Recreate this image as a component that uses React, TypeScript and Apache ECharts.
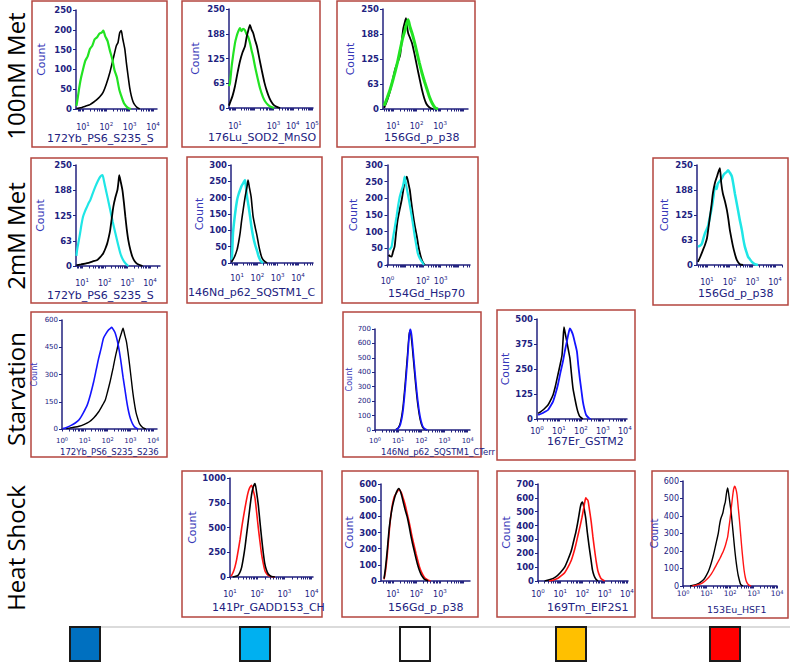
import React, { useEffect, useRef } from "react";
import * as echarts from "echarts";

// ---------- DATA (x = log10 intensity, y = count) ----------
const rowLabels = ["100nM Met", "2mM Met", "Starvation", "Heat Shock"];
const legendColors = ["#0070c0", "#00b0f0", "#ffffff", "#ffc000", "#ff0000"];

const a1Green = [[0.72,8],[0.78,30],[0.85,58],[0.92,80],[1.0,100],[1.1,122],[1.2,133],[1.3,152],[1.4,160],[1.5,176],[1.6,181],[1.7,190],[1.8,193],[1.87,198],[1.95,184],[2.05,172],[2.15,148],[2.25,127],[2.35,98],[2.45,80],[2.55,50],[2.65,31],[2.75,15],[2.85,7],[2.95,2],[3.05,0]];
const a1Black = [[0.72,1],[0.9,3],[1.0,5],[1.15,8],[1.3,11],[1.45,17],[1.58,23],[1.72,31],[1.86,42],[2.0,63],[2.15,92],[2.29,126],[2.43,160],[2.5,168],[2.57,192],[2.64,198],[2.7,178],[2.79,152],[2.86,116],[2.93,84],[3.0,54],[3.07,33],[3.14,19],[3.21,11],[3.3,5],[3.43,0]];
const a2Green = [[0.69,55],[0.74,63],[0.84,110],[1.0,164],[1.08,180],[1.16,192],[1.26,202],[1.34,194],[1.42,200],[1.52,196],[1.6,186],[1.68,180],[1.78,164],[1.86,146],[1.94,130],[2.04,105],[2.19,72],[2.3,50],[2.45,28],[2.56,17],[2.71,8],[2.82,4],[3.03,0]];
const a2Black = [[0.69,6],[0.74,13],[0.87,30],[1.0,55],[1.13,88],[1.26,118],[1.39,140],[1.52,156],[1.6,178],[1.68,194],[1.78,210],[1.86,198],[1.94,190],[2.04,172],[2.14,156],[2.27,124],[2.4,93],[2.53,64],[2.66,42],[2.79,25],[2.92,13],[3.05,6],[3.18,3],[3.34,0]];
const a3Green = [[0.62,8],[0.75,28],[0.87,48],[0.98,70],[1.09,94],[1.2,120],[1.3,148],[1.4,175],[1.51,198],[1.58,214],[1.64,223],[1.72,205],[1.81,189],[1.92,165],[2.02,140],[2.12,115],[2.23,90],[2.34,68],[2.45,48],[2.55,30],[2.66,15],[2.79,3],[2.91,0]];
const a3Black = [[0.62,3],[0.75,22],[0.87,45],[0.98,72],[1.09,100],[1.2,118],[1.3,135],[1.37,170],[1.43,200],[1.49,215],[1.55,227],[1.6,205],[1.64,190],[1.72,178],[1.81,164],[1.92,135],[2.02,106],[2.12,78],[2.23,48],[2.32,28],[2.4,15],[2.49,7],[2.57,3],[2.7,0]];
const b1Cyan = [[0.75,25],[0.78,40],[0.85,62],[0.91,81],[0.97,102],[1.04,122],[1.13,136],[1.22,147],[1.29,156],[1.36,163],[1.47,180],[1.58,196],[1.69,210],[1.8,221],[1.9,225],[1.96,212],[2.02,196],[2.13,168],[2.24,139],[2.35,110],[2.47,81],[2.58,55],[2.69,31],[2.8,16],[2.91,7],[3.04,0]];
const b1Black = [[0.75,2],[0.95,4],[1.22,7],[1.45,11],[1.67,15],[1.8,22],[1.93,31],[2.02,42],[2.11,56],[2.18,72],[2.24,89],[2.31,118],[2.38,147],[2.47,170],[2.56,188],[2.6,205],[2.64,225],[2.7,210],[2.78,188],[2.85,155],[2.91,122],[2.97,92],[3.04,64],[3.13,40],[3.22,23],[3.33,11],[3.44,5],[3.67,0]];
const b2Cyan = [[0.72,10],[0.75,20],[0.8,92],[0.9,150],[1.0,193],[1.08,212],[1.15,224],[1.22,236],[1.3,244],[1.39,254],[1.44,230],[1.49,203],[1.57,172],[1.64,142],[1.71,110],[1.79,81],[1.89,55],[1.99,36],[2.06,20],[2.13,10],[2.2,4],[2.28,0]];
const b2Black = [[0.72,3],[0.75,5],[0.88,20],[1.0,41],[1.08,65],[1.15,92],[1.22,128],[1.3,163],[1.39,200],[1.49,234],[1.54,254],[1.61,230],[1.69,203],[1.74,172],[1.79,142],[1.89,110],[1.99,81],[2.06,56],[2.13,36],[2.2,20],[2.28,10],[2.38,4],[2.48,0]];
const b3Black = [[0.06,30],[0.15,26],[0.23,25],[0.31,40],[0.4,55],[0.48,95],[0.57,135],[0.68,165],[0.8,195],[0.89,225],[0.97,250],[1.03,258],[1.09,265],[1.18,245],[1.26,225],[1.34,190],[1.43,155],[1.54,118],[1.66,85],[1.74,58],[1.83,35],[1.92,18],[2.0,8],[2.11,0]];
const b3Cyan = [[0.1,45],[0.17,50],[0.23,55],[0.29,75],[0.4,110],[0.51,145],[0.6,178],[0.69,205],[0.78,222],[0.86,235],[0.92,250],[0.97,265],[1.05,240],[1.14,215],[1.26,180],[1.37,145],[1.46,115],[1.54,85],[1.63,58],[1.71,35],[1.82,20],[1.94,10],[2.06,0]];
const b4Cyan = [[0.6,46],[0.69,48],[0.78,54],[0.85,68],[0.91,79],[0.98,88],[1.04,96],[1.13,120],[1.22,146],[1.29,172],[1.35,196],[1.42,190],[1.48,204],[1.57,210],[1.66,217],[1.72,224],[1.79,229],[1.86,232],[1.93,237],[2.02,230],[2.1,221],[2.17,200],[2.23,179],[2.3,158],[2.37,137],[2.45,112],[2.54,87],[2.6,66],[2.67,46],[2.74,33],[2.81,21],[2.9,14],[2.98,8],[3.11,2],[3.25,0]];
const b4Black = [[0.6,8],[0.7,20],[0.82,37],[0.91,50],[1.0,67],[1.07,95],[1.13,121],[1.2,150],[1.26,179],[1.35,205],[1.44,221],[1.5,232],[1.57,242],[1.63,205],[1.7,179],[1.79,160],[1.88,137],[1.95,112],[2.01,87],[2.08,66],[2.15,46],[2.23,28],[2.32,12],[2.45,2],[2.59,0]];
const c1Blue = [[0.04,2],[0.2,8],[0.4,20],[0.58,33],[0.75,51],[0.93,88],[1.11,133],[1.25,190],[1.39,260],[1.5,325],[1.61,390],[1.72,445],[1.82,500],[1.93,525],[2.04,545],[2.11,552],[2.18,560],[2.25,548],[2.33,530],[2.4,500],[2.47,460],[2.54,410],[2.61,350],[2.68,285],[2.76,220],[2.83,160],[2.9,110],[2.97,72],[3.04,45],[3.11,25],[3.18,12],[3.33,0]];
const c1Black = [[0.18,2],[0.45,8],[0.75,15],[0.98,26],[1.2,40],[1.4,62],[1.61,95],[1.75,125],[1.9,160],[2.0,205],[2.11,260],[2.18,300],[2.25,340],[2.32,385],[2.4,430],[2.47,468],[2.54,500],[2.61,528],[2.68,555],[2.75,520],[2.83,480],[2.9,420],[2.97,350],[3.04,275],[3.11,200],[3.18,140],[3.25,90],[3.33,55],[3.4,30],[3.54,8],[3.68,0]];
const c2Blue = [[0.9,2],[1.0,10],[1.1,40],[1.2,120],[1.3,280],[1.4,480],[1.47,640],[1.52,700],[1.58,660],[1.65,540],[1.75,360],[1.85,200],[1.95,90],[2.05,30],[2.15,8],[2.25,0]];
const c2Black = [[0.9,3],[1.0,15],[1.1,55],[1.2,150],[1.3,320],[1.4,520],[1.47,660],[1.52,690],[1.58,620],[1.65,500],[1.75,320],[1.85,170],[1.95,70],[2.05,20],[2.15,4],[2.25,0]];
const c3Black = [[0.05,28],[0.16,36],[0.27,45],[0.38,56],[0.5,70],[0.61,92],[0.73,120],[0.84,165],[0.95,220],[1.05,270],[1.14,320],[1.19,400],[1.23,460],[1.3,420],[1.36,387],[1.43,345],[1.5,303],[1.57,225],[1.64,153],[1.73,100],[1.82,53],[1.88,30],[1.95,12],[2.09,0]];
const c3Blue = [[0.05,20],[0.16,25],[0.27,30],[0.38,37],[0.5,45],[0.61,64],[0.73,87],[0.84,125],[0.95,170],[1.06,228],[1.18,287],[1.27,340],[1.36,387],[1.43,425],[1.5,453],[1.57,440],[1.64,420],[1.73,380],[1.82,337],[1.88,270],[1.95,203],[2.02,145],[2.09,87],[2.16,50],[2.24,20],[2.38,3],[2.45,0]];
const d1Red = [[1.02,8],[1.06,17],[1.12,50],[1.18,100],[1.24,170],[1.3,265],[1.37,380],[1.43,497],[1.49,600],[1.55,695],[1.61,785],[1.67,860],[1.73,905],[1.79,927],[1.85,880],[1.92,795],[1.98,650],[2.04,497],[2.1,360],[2.16,232],[2.22,140],[2.28,66],[2.34,35],[2.4,17],[2.53,2],[2.65,0]];
const d1Black = [[1.1,0],[1.18,5],[1.24,10],[1.3,17],[1.37,50],[1.43,100],[1.49,190],[1.55,298],[1.61,430],[1.67,563],[1.73,700],[1.79,828],[1.85,905],[1.92,944],[1.98,850],[2.04,728],[2.1,560],[2.16,397],[2.22,250],[2.28,132],[2.34,70],[2.4,33],[2.47,14],[2.53,5],[2.65,0]];
const d2Red = [[0.62,10],[0.68,60],[0.75,150],[0.85,320],[0.95,450],[1.05,520],[1.15,545],[1.25,565],[1.35,548],[1.45,505],[1.52,470],[1.6,420],[1.68,370],[1.75,320],[1.82,270],[1.9,220],[1.98,170],[2.05,130],[2.12,92],[2.2,60],[2.28,36],[2.35,20],[2.5,5],[2.6,0]];
const d2Black = [[0.62,15],[0.68,80],[0.75,180],[0.85,340],[0.95,440],[1.05,505],[1.15,550],[1.25,572],[1.35,540],[1.45,480],[1.52,440],[1.6,400],[1.68,345],[1.75,290],[1.82,240],[1.9,190],[1.98,140],[2.05,100],[2.12,68],[2.2,40],[2.28,22],[2.35,10],[2.5,0]];
const d3Black = [[0.3,0],[0.55,10],[0.8,30],[1.0,60],[1.2,100],[1.35,155],[1.5,220],[1.6,285],[1.7,350],[1.78,415],[1.85,480],[1.9,530],[1.95,560],[2.0,570],[2.05,545],[2.1,500],[2.15,450],[2.22,350],[2.3,250],[2.38,160],[2.45,80],[2.52,40],[2.6,15],[2.7,0]];
const d3Red = [[0.5,0],[0.7,8],[0.9,20],[1.05,38],[1.2,60],[1.35,100],[1.5,150],[1.6,200],[1.7,260],[1.8,330],[1.9,400],[1.98,460],[2.05,520],[2.1,565],[2.15,600],[2.2,590],[2.25,580],[2.32,510],[2.4,420],[2.47,320],[2.55,220],[2.62,140],[2.7,70],[2.78,35],[2.85,15],[3.0,0]];
const d4Black = [[0.3,0],[0.45,4],[0.6,10],[0.75,22],[0.9,40],[1.0,62],[1.1,90],[1.2,130],[1.3,180],[1.4,240],[1.5,300],[1.55,345],[1.6,380],[1.65,400],[1.7,420],[1.75,455],[1.8,480],[1.85,530],[1.9,560],[1.95,520],[2.0,470],[2.05,420],[2.1,350],[2.15,280],[2.2,210],[2.25,150],[2.3,100],[2.35,60],[2.45,10],[2.55,0]];
const d4Red = [[0.4,0],[0.6,6],[0.8,15],[0.95,30],[1.1,50],[1.2,68],[1.3,90],[1.4,115],[1.5,140],[1.58,160],[1.65,180],[1.72,200],[1.8,230],[1.85,255],[1.9,280],[1.95,330],[2.0,380],[2.05,440],[2.1,500],[2.15,550],[2.2,570],[2.25,555],[2.3,520],[2.35,450],[2.4,380],[2.45,300],[2.5,220],[2.55,150],[2.6,90],[2.65,50],[2.7,25],[2.8,5],[2.9,0]];

// ---------- LAYOUT / STYLE ----------
const K = "#000000", GREEN = "#22e322", CYAN = "#1fe6e6", BLUE = "#1414ff", RED = "#ff1414";
const NAVY = "#22227f";
const COUNT_C = "#3838b8";
const BORDER = "#b4463f";
const FONT = "DejaVu Sans, Verdana, sans-serif";

type Curve = { data: number[][]; color: string; width: number };
type Panel = {
  box: number[]; grid: number[]; xMin: number; xMax: number; xLabels: number[];
  yMax: number; yStep: number; title: string; titlePos: number[]; style: "std" | "small" | "thin";
  countGap: number; xMargin: number; curves: Curve[];
};

const PANELS: Panel[] = [
  { box: [32, 1, 135, 146], grid: [76, 10, 81, 99], xMin: 0.7, xMax: 4.17, xLabels: [1, 2, 3, 4], yMax: 250, yStep: 50, title: "172Yb_PS6_S235_S", titlePos: [47, 138], style: "std", countGap: 29, xMargin: 12, curves: [{ data: a1Black, color: K, width: 1.6 }, { data: a1Green, color: GREEN, width: 2.2 }] },
  { box: [182, 1, 138, 146], grid: [229, 9, 84, 99], xMin: 0.69, xMax: 5.05, xLabels: [1, 3, 4, 5], yMax: 250, yStep: 62.5, title: "176Lu_SOD2_MnSO", titlePos: [208, 137], style: "std", countGap: 28, xMargin: 12, curves: [{ data: a2Green, color: GREEN, width: 2.2 }, { data: a2Black, color: K, width: 1.8 }] },
  { box: [337, 1, 138, 146], grid: [383, 9, 85, 100], xMin: 0.57, xMax: 4.19, xLabels: [1, 2, 3], yMax: 250, yStep: 62.5, title: "156Gd_p_p38", titlePos: [384, 137], style: "std", countGap: 27, xMargin: 11, curves: [{ data: a3Black, color: K, width: 1.8 }, { data: a3Green, color: GREEN, width: 3 }] },
  { box: [31, 158, 136, 145], grid: [76, 165, 84, 101], xMin: 0.73, xMax: 4.44, xLabels: [1, 2, 3, 4], yMax: 250, yStep: 62.5, title: "172Yb_PS6_S235_S", titlePos: [47, 295], style: "std", countGap: 30, xMargin: 11, curves: [{ data: b1Cyan, color: CYAN, width: 2.2 }, { data: b1Black, color: K, width: 1.8 }] },
  { box: [187, 157, 135, 146], grid: [231, 165, 82, 98], xMin: 0.7, xMax: 4.74, xLabels: [1, 2, 3, 4], yMax: 300, yStep: 50, title: "146Nd_p62_SQSTM1_C", titlePos: [188, 292], style: "std", countGap: 26, xMargin: 9, curves: [{ data: b2Cyan, color: CYAN, width: 2.5 }, { data: b2Black, color: K, width: 1.6 }] },
  { box: [342, 157, 136, 146], grid: [387, 165, 83, 100], xMin: -0.03, xMax: 4.66, xLabels: [0, 2, 3], yMax: 300, yStep: 50, title: "154Gd_Hsp70", titlePos: [388, 293], style: "std", countGap: 28, xMargin: 10, curves: [{ data: b3Black, color: K, width: 1.8 }, { data: b3Cyan, color: CYAN, width: 2.2 }] },
  { box: [653, 158, 135, 147], grid: [697, 165, 85, 100], xMin: 0.56, xMax: 4.31, xLabels: [1, 2, 3, 4], yMax: 250, yStep: 62.5, title: "156Gd_p_p38", titlePos: [698, 293], style: "std", countGap: 27, xMargin: 11, curves: [{ data: b4Cyan, color: CYAN, width: 2.5 }, { data: b4Black, color: K, width: 1.8 }] },
  { box: [31, 312, 136, 145], grid: [62, 320, 95, 109], xMin: 0, xMax: 4.17, xLabels: [0, 1, 2, 3, 4], yMax: 600, yStep: 150, title: "172Yb_PS6_S235_S236", titlePos: [60, 452], style: "small", countGap: 24, xMargin: 7, curves: [{ data: c1Black, color: K, width: 1.4 }, { data: c1Blue, color: BLUE, width: 1.6 }] },
  { box: [343, 312, 138, 145], grid: [375, 329, 95, 101], xMin: 0, xMax: 4.1, xLabels: [0, 1, 2, 3, 4], yMax: 700, yStep: 100, title: "146Nd_p62_SQSTM1_CTerr", titlePos: [381, 452], style: "small", countGap: 20, xMargin: 6, curves: [{ data: c2Black, color: K, width: 1.4 }, { data: c2Blue, color: BLUE, width: 1.6 }] },
  { box: [497, 310, 138, 150], grid: [537, 319, 90, 100], xMin: 0, xMax: 4.1, xLabels: [0, 1, 2, 3, 4], yMax: 500, yStep: 125, title: "167Er_GSTM2", titlePos: [547, 441], style: "std", countGap: 22, xMargin: 6, curves: [{ data: c3Black, color: K, width: 1.6 }, { data: c3Blue, color: BLUE, width: 1.8 }] },
  { box: [182, 471, 140, 146], grid: [230, 478, 83, 99], xMin: 1.0, xMax: 4.05, xLabels: [1, 2, 3, 4], yMax: 1000, yStep: 250, title: "141Pr_GADD153_CH", titlePos: [212, 607], style: "std", countGap: 29, xMargin: 11, curves: [{ data: d1Red, color: RED, width: 1.6 }, { data: d1Black, color: K, width: 1.6 }] },
  { box: [342, 471, 136, 146], grid: [381, 484, 89, 97], xMin: 0.49, xMax: 4.28, xLabels: [1, 2, 3], yMax: 600, yStep: 100, title: "156Gd_p_p38", titlePos: [388, 607], style: "std", countGap: 24, xMargin: 7, curves: [{ data: d2Red, color: RED, width: 1.6 }, { data: d2Black, color: K, width: 1.6 }] },
  { box: [497, 471, 138, 146], grid: [538, 484, 90, 97], xMin: 0, xMax: 4.05, xLabels: [0, 1, 2, 3, 4], yMax: 700, yStep: 100, title: "169Tm_EIF2S1", titlePos: [547, 607], style: "std", countGap: 23, xMargin: 7, curves: [{ data: d3Black, color: K, width: 1.6 }, { data: d3Red, color: RED, width: 1.6 }] },
  { box: [652, 471, 136, 147], grid: [683, 481, 94, 105], xMin: 0, xMax: 4.0, xLabels: [0, 1, 2, 3, 4], yMax: 600, yStep: 100, title: "153Eu_HSF1", titlePos: [707, 609], style: "thin", countGap: 16, xMargin: 3, curves: [{ data: d4Black, color: K, width: 1.4 }, { data: d4Red, color: RED, width: 1.4 }] },
];

const ROW_Y = [76, 236, 389, 548];
const LEGEND_X = [70, 240, 400, 556, 710];

function logTicks(min: number, max: number): number[] {
  const out: number[] = [];
  for (let d = Math.floor(min); d <= Math.ceil(max); d++) {
    for (let k = 1; k <= 9; k++) {
      const v = d + Math.log10(k);
      if (v >= min - 1e-6 && v <= max + 1e-6) out.push(v);
    }
  }
  return out;
}

function fonts(style: string) {
  if (style === "small") return { y: 7, yW: "normal", x: 7, sup: 5, count: 8, title: 8.5, lh: 10 };
  if (style === "thin") return { y: 8, yW: "normal", x: 7.5, sup: 5, count: 10, title: 9.5, lh: 9 };
  return { y: 8.5, yW: "bold", x: 8, sup: 5.5, count: 11, title: 11, lh: 12 };
}

function buildOption() {
  const grid = PANELS.map((p) => ({ left: p.grid[0], top: p.grid[1], width: p.grid[2], height: p.grid[3], containLabel: false }));
  const xAxis = PANELS.map((p, i) => {
    const f = fonts(p.style);
    return {
      type: "value", gridIndex: i, min: p.xMin, max: p.xMax,
      axisLine: { show: true, onZero: false, lineStyle: { color: NAVY, width: 1.5 } },
      axisTick: { show: true, customValues: logTicks(p.xMin, p.xMax), length: 2.5, lineStyle: { color: NAVY, width: 1 } },
      axisLabel: {
        customValues: p.xLabels, margin: p.xMargin, color: NAVY, fontFamily: FONT,
        formatter: (v: number) => `{b|10}{s|${Math.round(v)}}`,
        rich: {
          b: { fontSize: f.x, fontFamily: FONT, color: NAVY, lineHeight: f.lh },
          s: { fontSize: f.sup, fontFamily: FONT, color: NAVY, verticalAlign: "top", lineHeight: f.lh, padding: [0, 0, 5, 0] },
        },
      },
      splitLine: { show: false },
    };
  });
  const yAxis = PANELS.map((p, i) => {
    const f = fonts(p.style);
    return {
      type: "value", gridIndex: i, min: 0, max: p.yMax, interval: p.yStep,
      name: "Count", nameLocation: "middle", nameRotate: 90, nameGap: p.countGap,
      nameTextStyle: { color: COUNT_C, fontSize: f.count, fontFamily: FONT },
      axisLine: { show: true, lineStyle: { color: NAVY, width: 1.5 } },
      axisTick: { show: true, length: 3, lineStyle: { color: NAVY, width: 1 } },
      axisLabel: { color: NAVY, fontSize: f.y, fontWeight: f.yW, fontFamily: FONT, margin: 4, formatter: (v: number) => String(Math.round(v)) },
      splitLine: { show: false },
    };
  });
  const series: any[] = [];
  PANELS.forEach((p, i) => {
    p.curves.forEach((c) => {
      series.push({
        type: "line", xAxisIndex: i, yAxisIndex: i, data: c.data, showSymbol: false, symbol: "none",
        smooth: 0.2, lineStyle: { color: c.color, width: c.width }, itemStyle: { color: c.color },
      });
    });
  });
  const elements: any[] = [];
  PANELS.forEach((p) => {
    const f = fonts(p.style);
    elements.push({ type: "rect", shape: { x: p.box[0], y: p.box[1], width: p.box[2], height: p.box[3] }, style: { fill: "none", stroke: BORDER, lineWidth: 1.5 }, silent: true });
    elements.push({ type: "text", x: p.titlePos[0], y: p.titlePos[1], style: { text: p.title, fill: NAVY, font: `${f.title}px ${FONT}`, textAlign: "left", textVerticalAlign: "middle", align: "left", verticalAlign: "middle" }, silent: true });
  });
  rowLabels.forEach((t, i) => {
    elements.push({ type: "text", x: 15, y: ROW_Y[i], rotation: Math.PI / 2, style: { text: t, fill: "#000", font: `24px "Open Sans", sans-serif`, textAlign: "center", textVerticalAlign: "middle", align: "center", verticalAlign: "middle" }, silent: true });
  });
  elements.push({ type: "rect", shape: { x: 70, y: 627, width: 740, height: 50 }, style: { fill: "#fff", stroke: "#d0d0d0", lineWidth: 1.5 }, silent: true });
  legendColors.forEach((c, i) => {
    elements.push({ type: "rect", shape: { x: LEGEND_X[i], y: 627, width: 30, height: 34 }, style: { fill: c, stroke: "#1a1a1a", lineWidth: 2 }, silent: true });
  });
  return { animation: false, backgroundColor: "#ffffff", grid, xAxis, yAxis, series, graphic: { elements } };
}

export default function App() {
  const ref = useRef<HTMLDivElement>(null);
  useEffect(() => {
    if (!ref.current) return;
    const chart = echarts.init(ref.current, undefined, { renderer: "svg" });
    chart.setOption(buildOption() as any);
    return () => chart.dispose();
  }, []);
  return <div ref={ref} style={{ position: "absolute", left: 0, top: 0, width: 790, height: 662 }} />;
}
